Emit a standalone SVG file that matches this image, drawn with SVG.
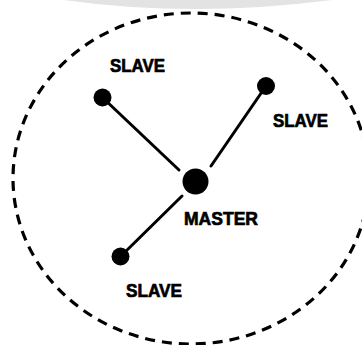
<svg xmlns="http://www.w3.org/2000/svg" width="362" height="345" viewBox="0 0 362 345">
<style>
.bnd{fill:none;stroke:#000;stroke-width:3.2;stroke-dasharray:10 7}
.link{stroke:#000;stroke-width:3;stroke-linecap:round}
.node{fill:#000}
.lbl{font-family:"Liberation Sans",Arial,sans-serif;font-weight:bold;font-size:19px;fill:#000;stroke:#000;stroke-width:0.7}
</style>
<rect width="362" height="345" fill="#fff"/>
<path d="M 64 0 Q 192 18 332 0 Z" fill="#e3e3e3"/>
<ellipse class="bnd" cx="191" cy="178.5" rx="178" ry="165.5"/>
<g id="connectors">
<line class="link" x1="103" y1="98" x2="179" y2="170"/>
<line class="link" x1="266" y1="86" x2="211" y2="166"/>
<line class="link" x1="121" y1="256" x2="182" y2="196"/>
</g>
<g id="master">
<circle class="node" cx="195.5" cy="181.5" r="13"/>
<text class="lbl" x="184" y="225" textLength="74" lengthAdjust="spacingAndGlyphs">MASTER</text>
</g>
<g id="slave1">
<circle class="node" cx="102.5" cy="97.5" r="9"/>
<text class="lbl" x="110" y="72" textLength="55" lengthAdjust="spacingAndGlyphs">SLAVE</text>
</g>
<g id="slave2">
<circle class="node" cx="266" cy="86" r="9"/>
<text class="lbl" x="273" y="127" textLength="55" lengthAdjust="spacingAndGlyphs">SLAVE</text>
</g>
<g id="slave3">
<circle class="node" cx="120.5" cy="256.5" r="9"/>
<text class="lbl" x="126" y="297" textLength="56" lengthAdjust="spacingAndGlyphs">SLAVE</text>
</g>
</svg>
